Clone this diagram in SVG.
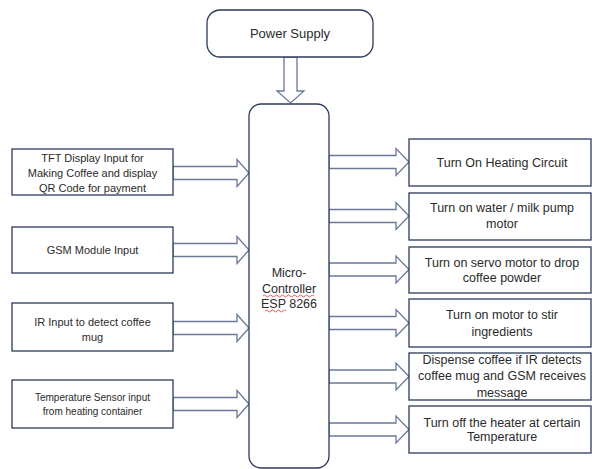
<svg xmlns="http://www.w3.org/2000/svg" width="592" height="469" viewBox="0 0 592 469">
<style>
.box{fill:#fff;stroke:#2c3a5a;stroke-width:1.3}
.arr{fill:#fff;stroke:#6b7896;stroke-width:1.3;stroke-linejoin:miter}
.t{font-family:"Liberation Sans",Arial,sans-serif;fill:#2a2a2a;text-anchor:middle}
.m{font-size:12.5px}
.s{font-size:11px}
.xs{font-size:10px}
.sq{fill:none;stroke:#e03030;stroke-width:0.8}
</style>
<rect width="592" height="469" fill="#fff"/>
<g id="connectors">
<polygon class="arr" points="284,57 297,57 297,91 304,91 290.5,103 277,91 284,91"/>
<polygon class="arr" points="173,166.5 237,166.5 237,159.5 249,173 237,186.5 237,179.5 173,179.5"/>
<polygon class="arr" points="173,243.5 237,243.5 237,236.5 249,250 237,263.5 237,256.5 173,256.5"/>
<polygon class="arr" points="173,321.5 237,321.5 237,314.5 249,328 237,341.5 237,334.5 173,334.5"/>
<polygon class="arr" points="173,397.5 237,397.5 237,390.5 249,404 237,417.5 237,410.5 173,410.5"/>
<polygon class="arr" points="329,155.5 396,155.5 396,148.5 409,162 396,175.5 396,168.5 329,168.5"/>
<polygon class="arr" points="329,209.5 396,209.5 396,202.5 409,216 396,229.5 396,222.5 329,222.5"/>
<polygon class="arr" points="329,263 396,263 396,256 409,269.5 396,283 396,276 329,276"/>
<polygon class="arr" points="329,316.5 396,316.5 396,309.5 409,323 396,336.5 396,329.5 329,329.5"/>
<polygon class="arr" points="329,370 396,370 396,363 409,376.5 396,390 396,383 329,383"/>
<polygon class="arr" points="329,423 396,423 396,416 409,429.5 396,443 396,436 329,436"/>
</g>
<g id="power">
<rect class="box" x="207" y="10" width="166" height="47" rx="13"/>
<text class="t" style="font-size:13px" x="290" y="38">Power Supply</text>
</g>
<g id="mcu">
<rect class="box" x="249" y="104" width="80" height="364" rx="12"/>
<text class="t m" x="289" y="277">Micro-</text>
<text class="t m" x="289" y="293">Controller</text>
<text class="t m" x="289" y="308">ESP 8266</text>
<path class="sq" d="M263,296 q1.5,-2 3,0 t3,0 t3,0 t3,0 t3,0 t3,0 t3,0 t3,0 t3,0 t3,0 t3,0 t3,0 t3,0 t3,0 t3,0 t3,0 t3,0"/>
<path class="sq" d="M265,311 q1.5,-2 3,0 t3,0 t3,0 t3,0 t3,0 t3,0 t3,0"/>
</g>
<g id="tft">
<rect class="box" x="12" y="149" width="161" height="46"/>
<text class="t s" x="92.5" y="162">TFT Display Input for</text>
<text class="t s" x="92.5" y="177">Making Coffee and display</text>
<text class="t s" x="92.5" y="192">QR Code for payment</text>
</g>
<g id="gsm">
<rect class="box" x="12" y="227" width="161" height="46"/>
<text class="t s" x="92.5" y="254">GSM Module Input</text>
</g>
<g id="ir">
<rect class="box" x="12" y="303" width="161" height="48"/>
<text class="t s" x="92.5" y="326">IR Input to detect coffee</text>
<text class="t s" x="92.5" y="341">mug</text>
</g>
<g id="temp">
<rect class="box" x="12" y="380" width="161" height="48"/>
<text class="t xs" x="92.5" y="401">Temperature Sensor input</text>
<text class="t xs" x="92.5" y="415">from heating container</text>
</g>
<g id="heat">
<rect class="box" x="409" y="139" width="182" height="47"/>
<text class="t m" x="502" y="167">Turn On Heating Circuit</text>
</g>
<g id="pump">
<rect class="box" x="409" y="193" width="182" height="47"/>
<text class="t m" x="502" y="212">Turn on water / milk pump</text>
<text class="t m" x="502" y="228">motor</text>
</g>
<g id="servo">
<rect class="box" x="409" y="247" width="182" height="46"/>
<text class="t m" x="502" y="267">Turn on servo motor to drop</text>
<text class="t m" x="502" y="282">coffee powder</text>
</g>
<g id="stir">
<rect class="box" x="409" y="299" width="182" height="48"/>
<text class="t m" x="502" y="319">Turn on motor to stir</text>
<text class="t m" x="502" y="336">ingredients</text>
</g>
<g id="dispense">
<rect class="box" x="409" y="353" width="182" height="47"/>
<text class="t m" x="502" y="364">Dispense coffee if IR detects</text>
<text class="t m" x="502" y="380">coffee mug and GSM receives</text>
<text class="t m" x="502" y="397">message</text>
</g>
<g id="heateroff">
<rect class="box" x="409" y="406" width="182" height="47"/>
<text class="t m" x="502" y="427">Turn off the heater at certain</text>
<text class="t m" x="502" y="441">Temperature</text>
</g>
</svg>
